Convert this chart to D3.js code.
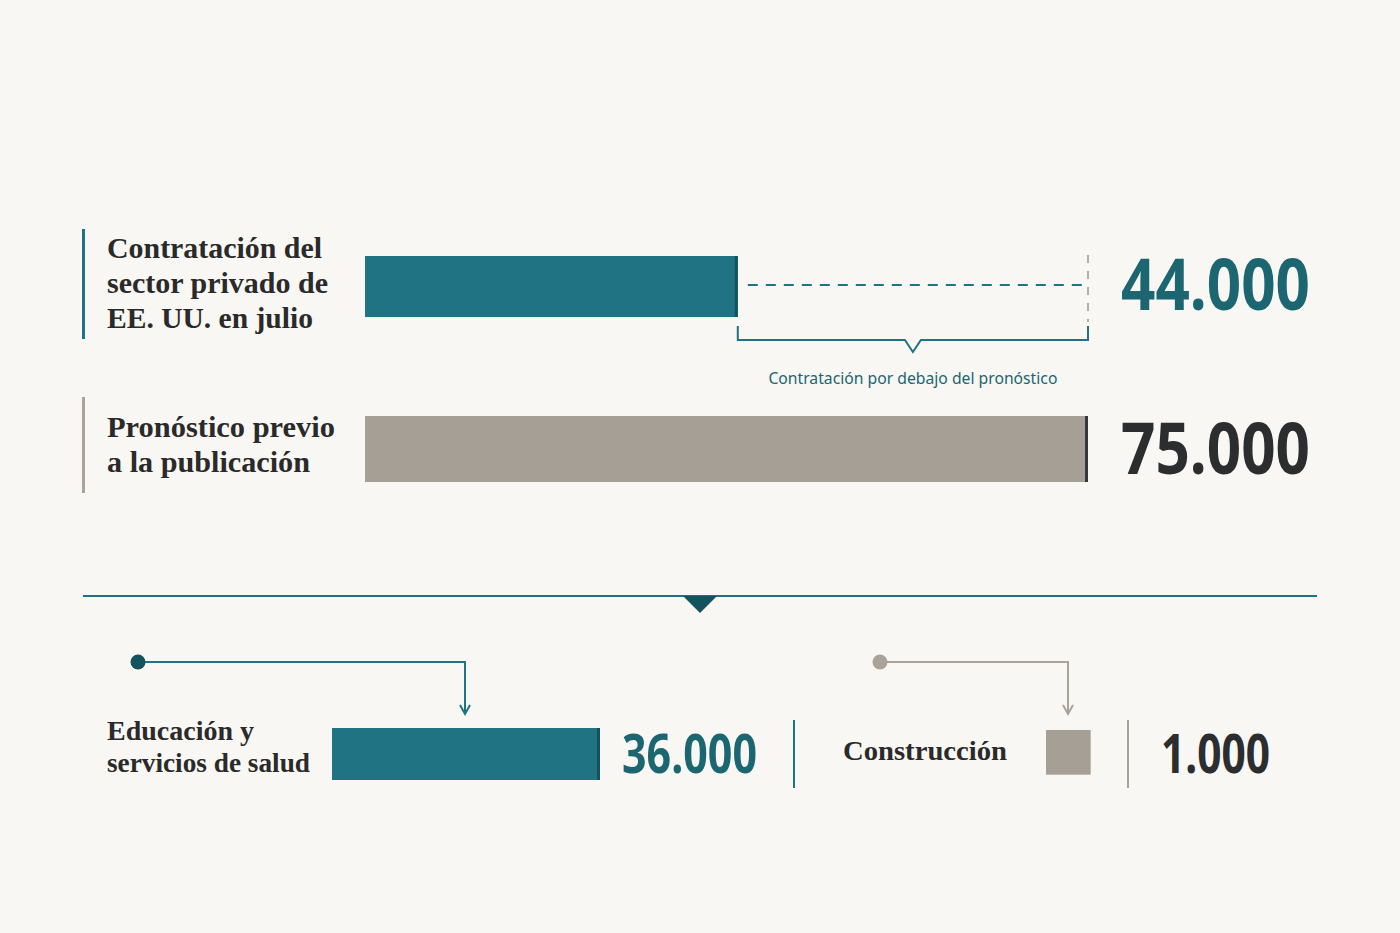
<!DOCTYPE html>
<html>
<head>
<meta charset="utf-8">
<script src="https://cdn.jsdelivr.net/npm/d3@7/dist/d3.min.js"></script>
<style>
  html, body { margin: 0; padding: 0; background: #f8f7f3; }
  svg { display: block; }
</style>
</head>
<body>
<script>
// ---- Data ----
const topCategories = ["Contratación del sector privado de EE. UU. en julio", "Pronóstico previo a la publicación"];
const topLabelLines = [["Contratación del", "sector privado de", "EE. UU. en julio"], ["Pronóstico previo", "a la publicación"]];
const topValues = [44000, 75000];
const gapLabel = "Contratación por debajo del pronóstico";
const sectorCategories = ["Educación y servicios de salud", "Construcción"];
const sectorLabelLines = [["Educación y", "servicios de salud"], ["Construcción"]];
const sectorValues = [36000, 1000];

// ---- Setup ----
const W = 1400, H = 933;
const TEAL = "#1f7383", TEAL_DARK = "#14525d", TEAL_TEXT = "#1b6671";
const GREY = "#a59f96", GREY_LINE = "#a9a39a", DARK = "#2b2d2f";
const SERIF = "'Liberation Serif', 'Times New Roman', serif";
const SANS = "'Noto Sans', 'Open Sans', sans-serif";

const loc = d3.formatLocale({decimal: ",", thousands: ".", grouping: [3], currency: ["", "€"]});
const fmt = loc.format(",d");

const svg = d3.select("body").append("svg").attr("width", W).attr("height", H);
svg.append("rect").attr("width", W).attr("height", H).attr("fill", "#f8f7f3");

// ---- Top section ----
const x = d3.scaleLinear().domain([11000, 75000]).range([365, 1088]);
const y = d3.scaleOrdinal().domain(topCategories).range([256, 416]);
const barH = [61, 66];
const topColors = [TEAL, GREY];
const edgeColors = [TEAL_DARK, "#35383a"];
const valueColors = [TEAL_TEXT, DARK];
const labelBarColors = [TEAL, GREY_LINE];
const labelBarY = [[229, 339], [397, 493]];
const labelBase = [258, 437];
const valueBase = [310, 474];
const labelSize = [29, 30];
const labelLen = [[215, 221, 206], [228, 203]];

topCategories.forEach((c, i) => {
  const g = svg.append("g");
  g.append("rect").attr("x", 82).attr("y", labelBarY[i][0]).attr("width", 3)
    .attr("height", labelBarY[i][1] - labelBarY[i][0]).attr("fill", labelBarColors[i]);
  const t = g.append("text").attr("font-family", SERIF).attr("font-weight", "bold")
    .attr("font-size", labelSize[i]).attr("fill", "#2a2a2a");
  topLabelLines[i].forEach((ln, j) => {
    t.append("tspan").attr("x", 107).attr("y", labelBase[i] + j * 35)
      .attr("textLength", labelLen[i][j]).attr("lengthAdjust", "spacingAndGlyphs").text(ln);
  });
  g.append("rect").attr("x", x.range()[0]).attr("y", y(c)).attr("width", x(topValues[i]) - x.range()[0])
    .attr("height", barH[i]).attr("fill", topColors[i]);
  g.append("rect").attr("x", x(topValues[i]) - 3).attr("y", y(c)).attr("width", 3)
    .attr("height", barH[i]).attr("fill", edgeColors[i]);
  g.append("text").attr("x", 1121).attr("y", valueBase[i]).attr("font-family", SANS)
    .attr("font-weight", 700).attr("font-size", 72).attr("fill", valueColors[i])
    .attr("textLength", 189).attr("lengthAdjust", "spacingAndGlyphs")
    .text(fmt(topValues[i]));
});

// gap annotation
const xa = x(topValues[0]), xb = x(topValues[1]);
svg.append("line").attr("x1", xa + 10).attr("x2", xb).attr("y1", 285).attr("y2", 285)
  .attr("stroke", TEAL).attr("stroke-width", 2).attr("stroke-dasharray", "10,8");
svg.append("line").attr("x1", xb).attr("x2", xb).attr("y1", 255).attr("y2", 322)
  .attr("stroke", "#b3aea6").attr("stroke-width", 2).attr("stroke-dasharray", "8,8");
const mid = (xa + xb) / 2;
svg.append("path")
  .attr("d", `M${xa},326 V340 H${mid - 8} L${mid},352 L${mid + 8},340 H${xb} V326`)
  .attr("fill", "none").attr("stroke", TEAL).attr("stroke-width", 2);
svg.append("text").attr("x", mid).attr("y", 384).attr("text-anchor", "middle")
  .attr("font-family", SANS).attr("font-size", 17).attr("fill", TEAL_TEXT)
  .attr("textLength", 289).attr("lengthAdjust", "spacingAndGlyphs").text(gapLabel);

// divider
svg.append("line").attr("x1", 83).attr("x2", 1317).attr("y1", 596).attr("y2", 596)
  .attr("stroke", TEAL).attr("stroke-width", 2);
svg.append("path").attr("d", "M683,596 L717,596 L700,613 Z").attr("fill", TEAL_DARK);

// ---- Bottom section ----
const s = d3.scaleSqrt().domain([0, 36000]).range([0, 268]);
const sectorColors = [TEAL, GREY];
const lineColors = [TEAL, GREY_LINE];
const dotX = [138, 880];
const arrowX = [465, 1068];
const labelX = [107, 843];
const labelY = [740, 760];
const labelLenB = [[147, 203], [164]];
const barX = [332, 1046];
const barY = [728, 730];
const sepX = [794, 1128];
const valX = [622, 1161];
const valW = [135, 109];

sectorCategories.forEach((c, i) => {
  const g = svg.append("g");
  g.append("path").attr("d", `M${dotX[i]},662 H${arrowX[i]} V713`)
    .attr("fill", "none").attr("stroke", lineColors[i]).attr("stroke-width", 2);
  g.append("path").attr("d", `M${arrowX[i] - 5},705 L${arrowX[i]},714 L${arrowX[i] + 5},705`)
    .attr("fill", "none").attr("stroke", lineColors[i]).attr("stroke-width", 2);
  g.append("circle").attr("cx", dotX[i]).attr("cy", 662).attr("r", 7.5).attr("fill", i === 0 ? TEAL_DARK : GREY_LINE);
  const t = g.append("text").attr("font-family", SERIF).attr("font-weight", "bold")
    .attr("font-size", 28).attr("fill", "#2a2a2a");
  sectorLabelLines[i].forEach((ln, j) => {
    t.append("tspan").attr("x", labelX[i]).attr("y", labelY[i] + j * 32)
      .attr("textLength", labelLenB[i][j]).attr("lengthAdjust", "spacingAndGlyphs").text(ln);
  });
  const w = s(sectorValues[i]);
  const h = i === 0 ? 52 : w;
  g.append("rect").attr("x", barX[i]).attr("y", barY[i]).attr("width", w).attr("height", h).attr("fill", sectorColors[i]);
  if (i === 0) {
    g.append("rect").attr("x", barX[i] + w - 3).attr("y", barY[i]).attr("width", 3).attr("height", h).attr("fill", TEAL_DARK);
  }
  g.append("line").attr("x1", sepX[i]).attr("x2", sepX[i]).attr("y1", 720).attr("y2", 788)
    .attr("stroke", lineColors[i]).attr("stroke-width", 2);
  g.append("text").attr("x", valX[i]).attr("y", 773).attr("font-family", SANS)
    .attr("font-weight", 700).attr("font-size", 54).attr("fill", i === 0 ? TEAL_TEXT : DARK)
    .attr("textLength", valW[i]).attr("lengthAdjust", "spacingAndGlyphs")
    .text(fmt(sectorValues[i]));
});
</script>
</body>
</html>
